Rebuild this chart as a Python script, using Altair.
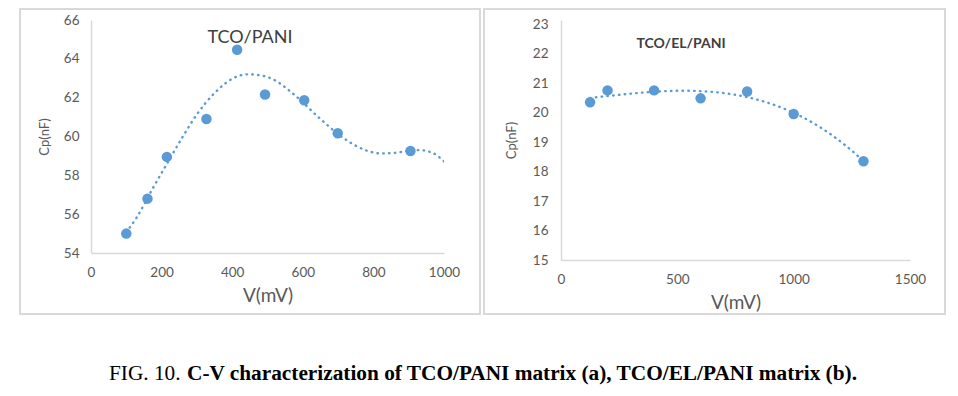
import altair as alt
import pandas as pd

# ---- data ----
v_a = [100, 160, 215, 327, 414, 493, 604, 699, 905]
cp_a = [55.0, 56.8, 58.95, 60.9, 64.47, 62.16, 61.87, 60.17, 59.25]
# dotted trend curve of panel (a)
trend_v_a = [100, 130, 175, 213, 260, 300, 348, 406, 441, 480, 515, 576, 644,
             716, 782, 819, 856, 900, 930, 966, 1000]
trend_cp_a = [55.07, 55.85, 57.33, 58.53, 59.99, 61.14, 62.20, 63.03, 63.20,
              63.15, 62.95, 62.15, 61.00, 59.91, 59.27, 59.13, 59.15, 59.26,
              59.30, 59.17, 58.72]

v_b = [125, 200, 400, 600, 800, 1000, 1300]
cp_b = [20.35, 20.75, 20.75, 20.48, 20.71, 19.95, 18.35]

xticks_a = [0, 200, 400, 600, 800, 1000]
yticks_a = [54, 56, 58, 60, 62, 64, 66]
xticks_b = [0, 500, 1000, 1500]
yticks_b = [15, 16, 17, 18, 19, 20, 21, 22, 23]

label_a = "TCO/PANI"
label_b = "TCO/EL/PANI"
caption_regular = "FIG. 10."
caption_bold = "C-V characterization of TCO/PANI matrix (a), TCO/EL/PANI matrix (b)."

BLUE = "#5b9bd5"
GREY_TXT = "#595959"
GREY_LINE = "#d9d9d9"
FONT = "Lato"
DOTS = dict(color=BLUE, strokeWidth=2.4, strokeDash=[0.5, 5.3],
            strokeCap="round", clip=True)


def panel(v, cp, xdom, ydom, xticks, yticks, w, h, trend_fn, label,
          label_xy, label_size, label_weight, box, ylab_pad, ytitle_pad,
          extra=None):
    df = pd.DataFrame({"V": v, "Cp": cp})
    xax = alt.Axis(values=xticks, format="d", grid=False, ticks=False,
                   domainColor=GREY_LINE, domainWidth=1.5, labelColor=GREY_TXT,
                   labelFont=FONT, labelFontSize=13.5, labelPadding=12,
                   title="V(mV)", titleFont=FONT, titleFontSize=19,
                   titleFontWeight="normal", titleColor=GREY_TXT,
                   titlePadding=8, labelFlush=False)
    yax = alt.Axis(values=yticks, format="d", grid=False, ticks=False,
                   domainColor=GREY_LINE, domainWidth=1.5, labelColor=GREY_TXT,
                   labelFont=FONT, labelFontSize=13.5, labelPadding=ylab_pad,
                   title="Cp(nF)", titleFont=FONT, titleFontSize=13,
                   titleFontWeight="normal", titleColor=GREY_TXT,
                   titlePadding=ytitle_pad, labelFlush=False)
    x = alt.X("V:Q", scale=alt.Scale(domain=xdom, nice=False, zero=False), axis=xax)
    y = alt.Y("Cp:Q", scale=alt.Scale(domain=ydom, nice=False, zero=False), axis=yax)
    base = alt.Chart(df)
    pts = base.mark_circle(size=110, color=BLUE, opacity=1).encode(x=x, y=y)
    trend = trend_fn(base).encode(x=x, y=y)
    one = alt.Chart(pd.DataFrame({"t": [label]}))
    txt = one.mark_text(font=FONT, fontSize=label_size, fontWeight=label_weight,
                        color="#404040", align="center", baseline="middle").encode(
        x=alt.value(label_xy[0]), y=alt.value(label_xy[1]), text="t:N")
    border = one.mark_rect(fill="white", fillOpacity=0, stroke=GREY_LINE,
                           strokeWidth=2).encode(
        x=alt.value(box[0]), x2=alt.value(box[1]),
        y=alt.value(box[2]), y2=alt.value(box[3]))
    layers = [border, trend, pts, txt] + (extra or [])
    return alt.layer(*layers).properties(width=w, height=h)


def trend_a(_base):
    return alt.Chart(pd.DataFrame({"V": trend_v_a, "Cp": trend_cp_a})).mark_line(
        interpolate="monotone", **DOTS)


def trend_b(base):
    return base.transform_regression(
        "V", "Cp", method="poly", order=3, extent=[125, 1300]
    ).mark_line(**DOTS)


# caption (placed relative to the left panel's plot origin)
cap_df = pd.DataFrame({"r": [caption_regular], "b": [caption_bold]})
cap_base = alt.Chart(cap_df)
cap_r = cap_base.mark_text(font="Liberation Serif", fontSize=21.3, color="black",
                           align="left", baseline="alphabetic").encode(
    x=alt.value(18), y=alt.value(360), text="r:N")
cap_b = cap_base.mark_text(font="Liberation Serif", fontSize=21.3, fontWeight="bold",
                           color="black", align="left", baseline="alphabetic").encode(
    x=alt.value(96), y=alt.value(360), text="b:N")

left = panel(v_a, cp_a, [0, 1000], [54, 66], xticks_a, yticks_a, 353, 233, trend_a,
             label_a, (159, 18), 18, "normal",
             (-71, 389, -11, 294), 12, 12, extra=[cap_r, cap_b])
# right plot area starts 4px lower in the reference: extend its domain upward
ytop_b = 23 + 4 * 8 / 236
right = panel(v_b, cp_b, [0, 1500], [15, ytop_b], xticks_b, yticks_b, 349, 240,
              trend_b, label_b, (120, 24), 14, "bold",
              (-77, 384, -11, 294), 13, 14)

chart = alt.hconcat(left, right, spacing=117, bounds="flush").properties(
    padding={"left": 11, "top": 0, "right": 0, "bottom": 0}
).configure_view(stroke=None)

chart.save("out.html", embed_options={"renderer": "svg", "actions": False})
